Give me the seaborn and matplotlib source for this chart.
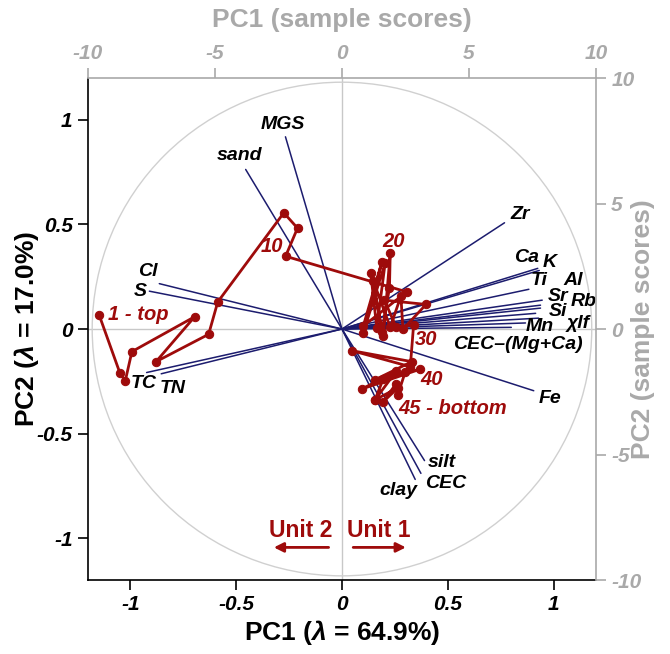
import matplotlib
matplotlib.use("Agg")
import matplotlib.pyplot as plt
import numpy as np
import pandas as pd
import seaborn as sns
from matplotlib.patches import Circle

# ---- variable loadings (PC1, PC2) ----
variables = ["MGS", "sand", "Cl", "S", "TC", "TN", "Zr", "Ca", "K", "Ti", "Al",
             "Sr", "Rb", "Si", "χlf", "Mn", "CEC–(Mg+Ca)", "Fe", "silt", "CEC", "clay"]
load_pc1 = [-0.267, -0.455, -0.863, -0.910, -0.923, -0.854, 0.768, 0.925, 0.932,
            0.883, 0.946, 0.938, 0.938, 0.915, 0.929, 0.867, 0.800, 0.906,
            0.390, 0.373, 0.346]
load_pc2 = [0.919, 0.763, 0.217, 0.181, -0.208, -0.214, 0.508, 0.290, 0.280,
            0.190, 0.138, 0.114, 0.100, 0.075, 0.052, 0.029, 0.008, -0.295,
            -0.629, -0.690, -0.719]

# ---- sample scores down the core (1 = top, 45 = bottom) ----
sample_depth = list(range(1, 46))
score_pc1 = [-9.56, -8.74, -8.53, -8.27, -5.80, -7.32, -5.25, -4.89, -2.29, -1.75,
             -2.22, 2.55, 0.84, 1.57, 0.84, 1.70, 1.37, 1.13, 1.63, 1.90,
             1.87, 1.57, 1.24, 1.90, 2.32, 2.40, 3.31, 1.67, 2.13, 2.82,
             2.69, 0.38, 2.75, 1.30, 3.08, 0.78, 2.13, 1.30, 1.63, 2.49,
             2.20, 2.13, 1.61, 2.21, 1.30]
score_pc2 = [0.56, -1.76, -2.06, -0.90, 0.49, -1.30, -0.21, 1.08, 4.63, 4.02,
             2.90, 1.48, 0.12, 2.67, -0.15, 2.63, 0.05, 2.25, -0.28, 3.03,
             1.64, -0.11, 1.90, 0.07, 1.31, -0.01, 0.98, 1.15, 0.08, 0.16,
             -1.50, -0.86, -1.30, -2.02, -1.60, -2.39, -1.69, -2.82, -1.98, -1.71,
             -2.62, -2.18, -2.91, -2.34, -2.82]
sample_labels = {1: "1 - top", 10: "10", 20: "20", 30: "30", 40: "40", 45: "45 - bottom"}

# ---- label placement for the loading vectors (PC1/PC2 units) ----
var_label_pos = {
    "MGS": (-0.28, 0.98), "sand": (-0.483, 0.829), "Cl": (-0.919, 0.273),
    "S": (-0.954, 0.181), "TC": (-0.938, -0.262), "TN": (-0.80, -0.283),
    "Zr": (0.842, 0.548), "Ca": (0.872, 0.344), "K": (0.981, 0.320),
    "Ti": (0.929, 0.230), "Al": (1.092, 0.230), "Sr": (1.021, 0.157),
    "Rb": (1.14, 0.133), "Si": (1.02, 0.082), "χlf": (1.116, 0.027),
    "Mn": (0.936, 0.014), "CEC–(Mg+Ca)": (0.831, -0.076), "Fe": (0.981, -0.33),
    "silt": (0.472, -0.64), "CEC": (0.488, -0.738), "clay": (0.265, -0.77),
}
# sample label anchor (score units) and horizontal alignment
sample_label_pos = {1: (-9.2, 0.59, "left"), 10: (-2.75, 3.30, "center"),
                    20: (2.05, 3.47, "center"), 30: (3.32, -0.43, "center"),
                    40: (3.54, -2.03, "center"), 45: (2.20, -3.15, "left")}

RED = "#9e0b0b"
NAVY = "#1c1c6e"
GREY = "#a9a9a9"

sns.set_theme(style="white")
plt.rcParams["font.family"] = ["Liberation Sans", "DejaVu Sans"]
plt.rcParams["mathtext.fontset"] = "custom"
plt.rcParams["mathtext.it"] = "Liberation Sans:bold:italic"
plt.rcParams["mathtext.rm"] = "Liberation Sans:bold"
for key in ["text.color", "axes.labelcolor", "xtick.color", "ytick.color"]:
    plt.rcParams[key] = "black"

fig = plt.figure(figsize=(6.7, 6.54), dpi=100)
rect = [0.1313, 0.1131, 0.7582, 0.7676]
ax = fig.add_axes(rect)
ax.set_xlim(-1.2, 1.2)
ax.set_ylim(-1.2, 1.2)

# reference lines and unit circle
ax.axhline(0, color="#c8c8c8", lw=1, zorder=1)
ax.axvline(0, color="#c8c8c8", lw=1, zorder=1)
ax.add_patch(Circle((0, 0), 1.18, fill=False, ec="#d0d0d0", lw=1, zorder=1))

# loading vectors
for v, x, y in zip(variables, load_pc1, load_pc2):
    ax.plot([0, x], [0, y], color=NAVY, lw=1.1, zorder=2)
    lx, ly = var_label_pos[v]
    ax.text(lx, ly, v, ha="center", va="center", fontsize=14,
            fontweight="bold", fontstyle="italic", color="black", zorder=5)

# unit arrows
ax.annotate("", xy=(-0.335, -1.044), xytext=(-0.05, -1.044),
            arrowprops=dict(arrowstyle="-|>", color=RED, lw=2, mutation_scale=14))
ax.annotate("", xy=(0.315, -1.044), xytext=(0.04, -1.044),
            arrowprops=dict(arrowstyle="-|>", color=RED, lw=2, mutation_scale=14))
ax.text(-0.193, -0.965, "Unit 2", ha="center", va="center", fontsize=16.5,
        fontweight="bold", color=RED)
ax.text(0.174, -0.965, "Unit 1", ha="center", va="center", fontsize=16.5,
        fontweight="bold", color=RED)

# primary axes styling
ticks = [-1, -0.5, 0, 0.5, 1]
ax.set_xticks(ticks)
ax.set_yticks(ticks)
ax.set_xticklabels(["-1", "-0.5", "0", "0.5", "1"])
ax.set_yticklabels(["-1", "-0.5", "0", "0.5", "1"])
for lab in ax.get_xticklabels() + ax.get_yticklabels():
    lab.set_fontweight("bold")
    lab.set_fontstyle("italic")
    lab.set_fontsize(15)
    lab.set_color("black")
ax.tick_params(axis="both", direction="out", length=7, width=1.2, color="black",
               bottom=True, left=True, pad=4)
for s in ["top", "right"]:
    ax.spines[s].set_visible(False)
for s in ["left", "bottom"]:
    ax.spines[s].set_color("black")
    ax.spines[s].set_linewidth(1.2)
ax.set_xlabel(r"PC1 ($\mathit{\lambda}$ = 64.9%)", fontsize=19, fontweight="bold",
              labelpad=3, color="black")
fig.text(27 / 670, 1 - 329 / 654, r"PC2 ($\mathit{\lambda}$ = 17.0%)", rotation=90,
         ha="center", va="center", fontsize=19, fontweight="bold", color="black")

# sample-score axes (top/right)
ax2 = fig.add_axes(rect, facecolor="none")
ax2.set_xlim(-10, 10)
ax2.set_ylim(-10, 10)
df = pd.DataFrame({"depth": sample_depth, "pc1": score_pc1, "pc2": score_pc2})
sns.lineplot(data=df, x="pc1", y="pc2", sort=False, estimator=None, ax=ax2,
             color=RED, lw=2, marker="o", markersize=6, markeredgecolor=RED, zorder=4)
for k, (tx, ty, ha) in sample_label_pos.items():
    ax2.text(tx, ty, sample_labels[k], ha=ha, va="center", fontsize=14.5,
             fontweight="bold", fontstyle="italic", color=RED, zorder=6)

ax2.xaxis.tick_top()
ax2.yaxis.tick_right()
ax2.xaxis.set_label_position("top")
score_ticks = [-10, -5, 0, 5, 10]
score_ticklabels = ["-10", "-5", "0", "5", "10"]
ax2.set_xticks(score_ticks)
ax2.set_yticks(score_ticks)
ax2.set_xticklabels(score_ticklabels)
ax2.set_yticklabels(score_ticklabels)
for lab in ax2.get_xticklabels() + ax2.get_yticklabels():
    lab.set_fontweight("bold")
    lab.set_fontstyle("italic")
    lab.set_fontsize(15)
    lab.set_color(GREY)
ax2.tick_params(axis="both", direction="out", length=7, width=1.2, color=GREY,
                top=True, right=True, bottom=False, left=False, pad=4)
for s in ["left", "bottom"]:
    ax2.spines[s].set_visible(False)
for s in ["top", "right"]:
    ax2.spines[s].set_color(GREY)
    ax2.spines[s].set_linewidth(1.2)
ax2.set_xlabel("PC1 (sample scores)", fontsize=19, fontweight="bold", color=GREY, labelpad=12)
ax2.set_ylabel("")
fig.text(643 / 670, 1 - 329 / 654, "PC2 (sample scores)", rotation=90,
         ha="center", va="center", fontsize=19, fontweight="bold", color=GREY)
ax2.grid(False)
ax.grid(False)

fig.savefig("out.png", dpi=100)
